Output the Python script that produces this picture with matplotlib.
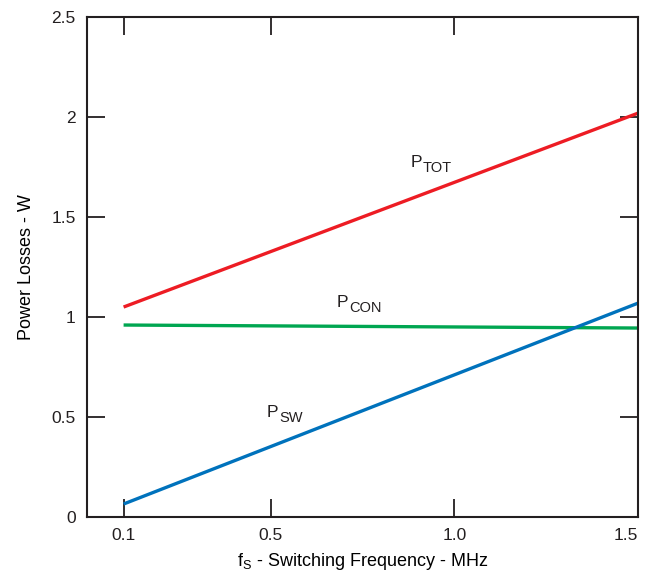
import numpy as np
import matplotlib
matplotlib.use('Agg')
import matplotlib.pyplot as plt

plt.rcParams['font.family'] = ['Liberation Sans', 'DejaVu Sans']
plt.rcParams['mathtext.fontset'] = 'custom'
plt.rcParams['mathtext.rm'] = 'Liberation Sans'
plt.rcParams['mathtext.it'] = 'Liberation Sans'

# Switching frequency (MHz) and losses (W) at the two ends
freq = [0.1, 1.5]
p_tot = [1.05, 2.02]
p_con = [0.96, 0.945]
p_sw = [0.065, 1.07]

x_ticks = [0.1, 0.5, 1.0, 1.5]
x_labels = ['0.1', '0.5', '1.0', '1.5']
y_ticks = [0, 0.5, 1, 1.5, 2, 2.5]
y_labels = ['0', '0.5', '1', '1.5', '2', '2.5']

fig = plt.figure(figsize=(6.48, 5.76), dpi=100)
ax = fig.add_axes([0.134, 0.1024, 0.851, 0.868])

ax.plot(freq, p_tot, color='#ED1C24', linewidth=2.4, solid_capstyle='butt')
ax.plot(freq, p_con, color='#00A651', linewidth=2.4, solid_capstyle='butt')
ax.plot(freq, p_sw, color='#0072BC', linewidth=2.4, solid_capstyle='butt')


def label(x, y, sub):
    # "P" with a subscript just below its baseline
    ax.text(x, y, 'P', fontsize=12.5, ha='left', va='baseline', color='#231F20')
    ax.annotate(sub, (x, y), xytext=(8.6, -3.5), textcoords='offset points',
                fontsize=10.5, ha='left', va='baseline', color='#231F20')


label(0.88, 1.75, 'TOT')
label(0.68, 1.05, 'CON')
label(0.49, 0.50, 'SW')

ax.set_xlim(0, 1.5)
ax.set_ylim(0, 2.5)
ax.set_xticks(x_ticks)
ax.set_xticklabels(x_labels)
ax.set_yticks(y_ticks)
ax.set_yticklabels(y_labels)
ax.tick_params(direction='in', length=13, width=1.3, labelsize=12.5,
               top=True, right=True, colors='#231F20')
ax.tick_params(axis='x', pad=8)
ax.tick_params(axis='y', pad=8)
for s in ax.spines.values():
    s.set_linewidth(1.5)
    s.set_color('#231F20')
# last x label sits flush with the right edge of the frame
ax.get_xticklabels()[-1].set_horizontalalignment('right')

ax.set_xlabel(r'$\mathrm{f}_{\mathrm{S}}$ - Switching Frequency - MHz', fontsize=13, labelpad=6)
ax.set_ylabel('Power Losses - W', fontsize=13, labelpad=12)

fig.savefig('out.png', dpi=100)
